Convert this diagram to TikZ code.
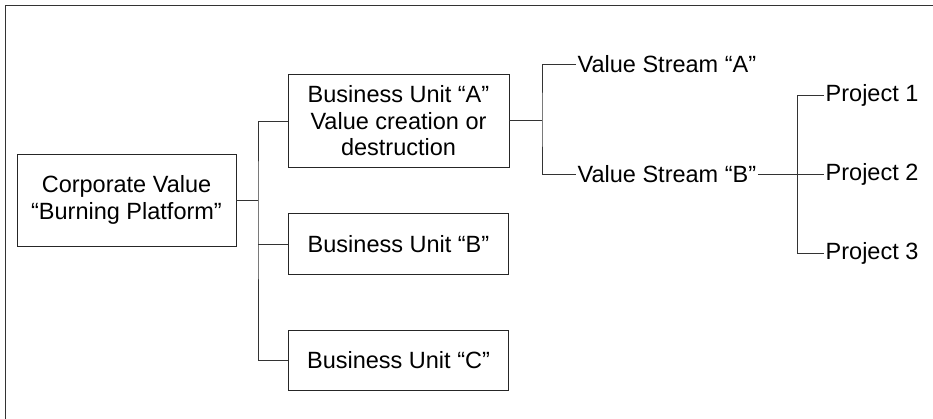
\documentclass[tikz,border=0pt]{standalone}
\usepackage{fontspec}
\setmainfont{Liberation Sans}
\begin{document}
\begin{tikzpicture}[x=1pt,y=-1pt,
  every node/.style={font=\fontsize{23.5}{26.5}\selectfont, text=black},
  unitbox/.style={draw=black!85, line width=0.9pt, rectangle, align=center, inner sep=0pt},
  leaf/.style={inner sep=1.5pt, anchor=west},
  link/.style={draw=black!80, line width=0.9pt}]
\useasboundingbox (0,0) rectangle (933,419);
% outer frame (left and top edges)
\draw[black!80, line width=0.9pt] (5,419) -- (5,5) -- (933,5);

% root and business units
\node[unitbox, minimum width=219pt, minimum height=92pt] (corp) at (126.5,200) {Corporate Value\\“Burning Platform”};
\node[unitbox, minimum width=221pt, minimum height=93pt] (buA) at (398.5,121) {Business Unit “A”\\Value creation or\\destruction};
\node[unitbox, minimum width=220pt, minimum height=61pt] (buB) at (398.5,244) {Business Unit “B”};
\node[unitbox, minimum width=220pt, minimum height=60pt] (buC) at (398.5,360) {Business Unit “C”};

% value streams
\node[leaf] (vsA) at (576,64) {Value Stream “A”};
\node[leaf] (vsB) at (576,174) {Value Stream “B”};

% projects
\node[leaf] (p1) at (824,95) {Project 1};
\node[leaf] (p2) at (824,174) {Project 2};
\node[leaf] (p3) at (824,253) {Project 3};

% junction points
\coordinate (j1) at (258,200);
\coordinate (j2) at (542,120);
\coordinate (j3) at (797,173);

% connectors
\draw[link] (corp.east) -- (j1);
\draw[link] (buA.west) -| (j1) |- (buC.west);
\draw[link] (buB.west) -- (buB.west -| j1);

\draw[link] (buA.east |- j2) -- (j2);
\draw[link] (vsA.west) -| (j2) |- (vsB.west);

\draw[link] (vsB.east) -- (p2.west);
\draw[link] (p1.west) -| (j3) |- (p3.west);
\end{tikzpicture}
\end{document}
